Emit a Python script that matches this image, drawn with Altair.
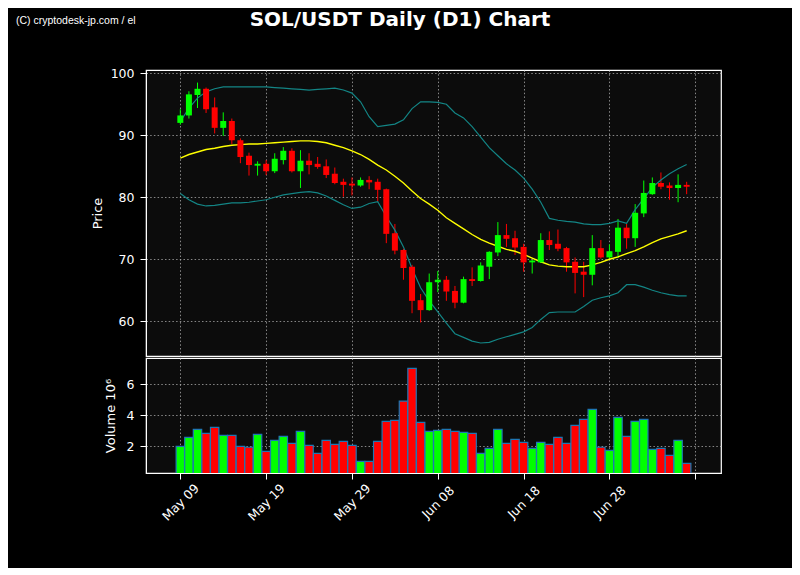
import altair as alt
import pandas as pd

# ---------------- data ----------------
day = list(range(60))  # 0 = May 09 ... 59 = Jul 07

open_ = [92.0, 93.2, 96.5, 97.5, 94.5, 91.2, 92.3, 89.2, 86.7, 85.1,
         85.4, 84.2, 86.0, 87.5, 84.2, 85.9, 85.4, 85.0, 83.8, 82.5,
         82.2, 81.9, 82.8, 82.5, 81.3, 74.2, 71.5, 68.8, 63.4, 61.8,
         66.3, 66.7, 64.9, 63.0, 66.8, 66.5, 68.8, 71.1, 73.9, 73.4,
         72.0, 69.5, 69.5, 73.1, 72.5, 71.8, 69.6, 68.0, 67.5, 71.8,
         70.3, 71.2, 75.1, 73.4, 77.4, 80.5, 82.3, 81.9, 81.5, 82.0]
high = [94.2, 97.1, 98.5, 97.7, 96.1, 93.7, 92.7, 89.5, 87.2, 85.8,
        86.0, 87.1, 88.1, 87.9, 87.6, 87.1, 86.5, 86.1, 84.8, 83.0,
        83.2, 83.2, 83.4, 83.0, 81.4, 75.7, 71.7, 69.1, 64.4, 67.7,
        68.1, 67.3, 65.7, 67.2, 68.7, 69.5, 71.3, 76.0, 75.7, 74.6,
        72.5, 69.9, 74.2, 74.5, 74.8, 72.0, 70.3, 69.6, 73.9, 73.1,
        72.4, 76.5, 75.7, 78.9, 82.7, 83.2, 84.0, 82.4, 83.7, 82.5]
low = [91.7, 92.7, 94.4, 93.6, 90.3, 89.9, 88.6, 85.5, 83.5, 83.5,
       83.6, 83.9, 85.3, 84.0, 81.5, 83.7, 84.6, 83.1, 82.1, 80.1,
       80.3, 81.7, 81.3, 79.3, 72.6, 70.8, 66.7, 61.3, 59.8, 61.7,
       64.7, 63.3, 62.1, 62.9, 65.7, 66.4, 66.8, 70.5, 72.0, 70.7,
       68.0, 67.7, 69.4, 71.5, 71.3, 68.0, 64.5, 63.9, 65.8, 70.1,
       69.9, 70.2, 71.7, 72.0, 76.8, 80.4, 81.3, 79.6, 79.2, 80.5]
close = [93.2, 96.6, 97.5, 94.2, 91.2, 92.3, 89.2, 86.5, 85.2, 85.4,
         84.2, 86.2, 87.5, 84.2, 85.9, 85.2, 84.9, 83.6, 82.3, 82.0,
         81.9, 82.8, 82.4, 81.2, 74.1, 71.4, 68.6, 63.3, 61.8, 66.3,
         66.7, 64.8, 63.0, 66.8, 66.5, 69.0, 71.2, 73.9, 73.3, 71.9,
         69.5, 69.8, 73.1, 72.3, 71.7, 69.5, 67.8, 67.5, 71.8, 70.3,
         71.3, 75.1, 73.4, 77.5, 80.7, 82.3, 81.7, 81.5, 82.0, 81.7]
volume_m = [2.00, 2.58, 3.10, 2.84, 3.22, 2.71, 2.71, 2.00, 1.94, 2.77,
            1.68, 2.39, 2.64, 2.19, 2.97, 2.06, 1.55, 2.39, 2.13, 2.32,
            2.06, 1.03, 1.03, 2.32, 3.61, 3.68, 4.92, 7.03, 3.55, 2.97,
            3.03, 3.10, 2.97, 2.90, 2.84, 1.55, 1.87, 3.10, 2.19, 2.45,
            2.26, 1.87, 2.26, 2.13, 2.58, 2.19, 3.35, 3.74, 4.39, 1.94,
            1.74, 3.87, 2.64, 3.61, 3.74, 1.81, 1.87, 1.42, 2.39, 0.90]
bb_upper = [92.2, 94.4, 96.0, 97.0, 97.5, 97.8, 97.8, 97.8, 97.8, 97.8,
            97.8, 97.7, 97.6, 97.5, 97.4, 97.3, 97.4, 97.5, 97.6, 97.3,
            96.8, 95.4, 93.0, 91.4, 91.6, 91.8, 92.5, 94.3, 95.4, 95.4,
            95.3, 95.0, 93.6, 92.8, 91.4, 89.7, 88.0, 86.7, 85.4, 84.4,
            83.1, 81.3, 79.2, 76.6, 76.3, 76.1, 76.0, 75.7, 75.6, 75.6,
            75.8, 76.2, 75.8, 78.0, 79.8, 81.6, 82.8, 83.8, 84.6, 85.3]
bb_mid = [86.3, 86.9, 87.3, 87.7, 87.9, 88.2, 88.4, 88.5, 88.6, 88.6,
          88.7, 88.8, 88.9, 89.0, 89.1, 89.1, 89.0, 88.8, 88.4, 88.0,
          87.5, 86.9, 86.1, 85.2, 84.4, 83.4, 82.3, 81.0, 79.8, 78.9,
          77.9, 76.7, 75.8, 74.9, 74.0, 73.2, 72.6, 72.1, 71.6, 71.3,
          70.8, 70.2, 69.6, 69.1, 68.9, 68.8, 68.8, 68.8, 69.1, 69.5,
          70.0, 70.4, 70.9, 71.4, 72.0, 72.7, 73.3, 73.7, 74.1, 74.6]
bb_lower = [80.6, 79.6, 78.9, 78.6, 78.7, 78.9, 79.1, 79.1, 79.2, 79.4,
            79.6, 80.0, 80.4, 80.6, 80.8, 80.9, 80.7, 80.2, 79.5, 78.8,
            78.2, 78.4, 79.0, 79.3, 76.9, 74.7, 72.0, 68.5, 65.4, 63.3,
            61.5, 59.7, 58.0, 57.4, 56.8, 56.5, 56.6, 57.1, 57.5, 57.9,
            58.3, 59.0, 60.3, 61.4, 61.5, 61.5, 61.5, 62.4, 63.4, 63.8,
            64.1, 64.6, 65.9, 65.9, 65.5, 65.0, 64.6, 64.3, 64.1, 64.1]

tick_pos = [0, 10, 20, 30, 40, 50, 60]
tick_labels = ["May 09", "May 19", "May 29", "Jun 08", "Jun 18", "Jun 28", ""]
price_ticks = [60, 70, 80, 90, 100]
vol_ticks = [2, 4, 6]

title_text = "SOL/USDT Daily (D1) Chart"
credit_text = "(C) cryptodesk-jp.com / el"

# ---------------- table ----------------
df = pd.DataFrame({
    "day": day, "open": open_, "high": high, "low": low, "close": close,
    "volume": volume_m, "upper": bb_upper, "mid": bb_mid, "lower": bb_lower,
})
df["dir"] = ["up" if c >= o else "down" for o, c in zip(open_, close)]

X_DOMAIN = [-4.0, 63.0]
W = 575
H_PRICE = 286
H_VOL = 115

color = alt.Color("dir:N", scale=alt.Scale(domain=["up", "down"],
                                           range=["#00ff00", "#ff0000"]),
                  legend=None)

label_expr = "[" + ",".join("'%s'" % t for t in tick_labels) + "][round(datum.value / 10)]"

x_scale = alt.Scale(domain=X_DOMAIN, nice=False, zero=False, padding=0)
x_price = alt.X("day:Q", scale=x_scale,
                axis=alt.Axis(values=tick_pos, labels=False, ticks=False,
                              domain=False, grid=True, title=None))
y_price_axis = alt.Axis(values=price_ticks, title="Price", titlePadding=6,
                        grid=True)
y_scale = alt.Scale(domain=[54.4, 100.53], nice=False, zero=False)

base = alt.Chart(df)

wicks = base.mark_rule(strokeWidth=1).encode(
    x=x_price,
    y=alt.Y("low:Q", scale=y_scale, axis=y_price_axis),
    y2="high:Q",
    color=color,
)
bodies = base.mark_bar(size=6).encode(
    x="day:Q", y="open:Q", y2="close:Q", color=color,
)
upper_line = base.mark_line(color="#138585", strokeWidth=1.2).encode(
    x="day:Q", y="upper:Q")
lower_line = base.mark_line(color="#138585", strokeWidth=1.2).encode(
    x="day:Q", y="lower:Q")
mid_line = base.mark_line(color="#ffff00", strokeWidth=1.4).encode(
    x="day:Q", y="mid:Q")

title_mark = alt.Chart(pd.DataFrame({"t": [title_text]})).mark_text(
    font="DejaVu Sans", fontSize=20, fontWeight="bold", color="white",
    align="center", baseline="top",
).encode(text="t:N", x=alt.value(254), y=alt.value(-60))

credit_mark = alt.Chart(pd.DataFrame({"t": [credit_text]})).mark_text(
    font="Liberation Sans, Arial, sans-serif", fontSize=10.5,
    color="white", align="left", baseline="middle",
).encode(text="t:N", x=alt.value(-130), y=alt.value(-49))

price = alt.layer(wicks, upper_line, lower_line, mid_line, bodies,
                  title_mark, credit_mark).properties(width=W, height=H_PRICE)

volume = base.mark_bar(size=8.4, stroke="#1f77b4", strokeWidth=1.2,
                       clip=True).encode(
    x=alt.X("day:Q", scale=x_scale,
            axis=alt.Axis(values=tick_pos, labelExpr=label_expr, labelAngle=-45,
                          labelAlign="center", labelBaseline="middle",
                          labelPadding=23, tickSize=6, grid=True, title=None)),
    y=alt.Y("volume:Q", scale=alt.Scale(domain=[0.28, 7.7], nice=False, zero=False),
            axis=alt.Axis(values=vol_ticks, title="Volume  10⁶", titlePadding=9,
                          grid=True)),
    color=color,
).properties(width=W, height=H_VOL)

chart = alt.vconcat(price, volume, spacing=0).resolve_scale(
    color="shared"
).configure(
    background="black",
    padding={"left": 7, "top": 1, "right": 70, "bottom": 44},
).configure_view(
    fill="#0c0c0c", stroke="white", strokeWidth=1.2,
).configure_axis(
    gridColor="#b8b8b8", gridDash=[1.5, 2.2], gridWidth=0.9, gridOpacity=0.8,
    labelColor="white", titleColor="white", tickColor="white",
    domainColor="white", labelFont="DejaVu Sans", titleFont="DejaVu Sans",
    labelFontSize=12.5, titleFontSize=13, titleFontWeight="normal",
    tickSize=6, labelPadding=6, tickWidth=1,
)

chart.save("out.html", embed_options={"renderer": "svg", "actions": False})
